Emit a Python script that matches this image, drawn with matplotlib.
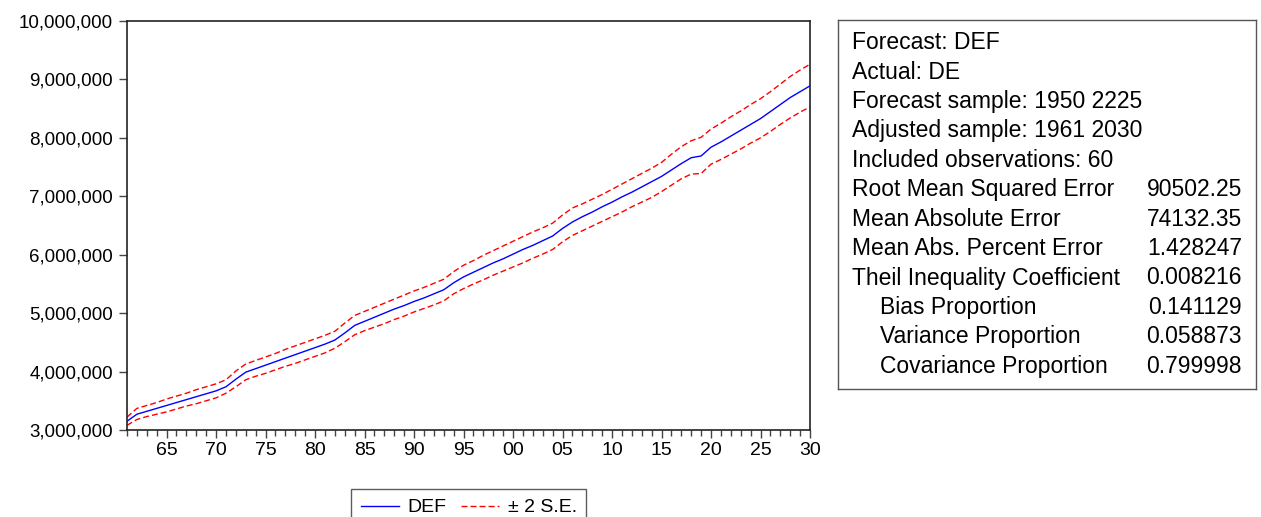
import matplotlib
matplotlib.use("Agg")
import matplotlib.pyplot as plt
from matplotlib.ticker import FuncFormatter, MultipleLocator
from matplotlib.lines import Line2D
import numpy as np

plt.rcParams['font.family'] = ['Liberation Sans', 'DejaVu Sans']

years = list(range(1961, 2031))

def_vals = [3.15, 3.27, 3.32, 3.37, 3.42, 3.47, 3.52, 3.57, 3.62, 3.67,
            3.74, 3.87, 3.99, 4.05, 4.11, 4.17, 4.23, 4.29, 4.35, 4.41,
            4.47, 4.54, 4.66, 4.79, 4.86, 4.93, 5.00, 5.07, 5.13, 5.20,
            5.26, 5.33, 5.40, 5.52, 5.62, 5.70, 5.78, 5.86, 5.93, 6.01,
            6.09, 6.16, 6.24, 6.32, 6.45, 6.56, 6.65, 6.73, 6.82, 6.90,
            6.99, 7.07, 7.16, 7.25, 7.34, 7.45, 7.56, 7.66, 7.69, 7.84,
            7.93, 8.03, 8.13, 8.23, 8.33, 8.45, 8.57, 8.69, 8.79, 8.89]

upper_vals = [3.22, 3.37, 3.42, 3.47, 3.53, 3.58, 3.63, 3.69, 3.74, 3.79,
              3.86, 4.01, 4.13, 4.19, 4.25, 4.31, 4.38, 4.44, 4.50, 4.56,
              4.62, 4.69, 4.83, 4.96, 5.03, 5.10, 5.17, 5.24, 5.31, 5.38,
              5.44, 5.51, 5.58, 5.71, 5.82, 5.90, 5.99, 6.07, 6.15, 6.23,
              6.31, 6.39, 6.46, 6.54, 6.68, 6.80, 6.87, 6.95, 7.03, 7.12,
              7.21, 7.30, 7.39, 7.48, 7.58, 7.72, 7.85, 7.95, 8.01, 8.15,
              8.25, 8.36, 8.46, 8.57, 8.67, 8.79, 8.92, 9.05, 9.16, 9.26]

lower_vals = [3.08, 3.18, 3.23, 3.27, 3.31, 3.36, 3.41, 3.45, 3.50, 3.55,
              3.63, 3.74, 3.86, 3.92, 3.97, 4.03, 4.09, 4.14, 4.20, 4.26,
              4.32, 4.40, 4.51, 4.63, 4.70, 4.76, 4.82, 4.89, 4.95, 5.02,
              5.08, 5.14, 5.21, 5.33, 5.42, 5.50, 5.57, 5.65, 5.72, 5.79,
              5.86, 5.94, 6.01, 6.09, 6.22, 6.33, 6.41, 6.49, 6.57, 6.65,
              6.73, 6.82, 6.90, 6.98, 7.08, 7.19, 7.30, 7.38, 7.39, 7.55,
              7.63, 7.72, 7.81, 7.91, 8.00, 8.11, 8.23, 8.34, 8.44, 8.53]

stat_labels = ["Root Mean Squared Error", "Mean Absolute Error",
               "Mean Abs. Percent Error", "Theil Inequality Coefficient",
               "   Bias Proportion", "   Variance Proportion",
               "   Covariance Proportion"]
stat_values = ["90502.25", "74132.35", "1.428247", "0.008216",
               "0.141129", "0.058873", "0.799998"]
header_lines = ["Forecast: DEF", "Actual: DE", "Forecast sample: 1950 2225",
                "Adjusted sample: 1961 2030", "Included observations: 60"]

W, H = 1261, 517
fig = plt.figure(figsize=(W/100, H/100), dpi=100)
ax = fig.add_axes([127/W, (H-430)/H, (810-127)/W, (430-21)/H])

y_def = np.array(def_vals) * 1e6
y_up = np.array(upper_vals) * 1e6
y_lo = np.array(lower_vals) * 1e6

DASH = (4.3, 2.2)
ax.plot(years, y_def, color='#0000ff', lw=1.0)
ax.plot(years, y_up, color='#ff0000', lw=1.0, dashes=DASH)
ax.plot(years, y_lo, color='#ff0000', lw=1.0, dashes=DASH)

ax.set_xlim(1961, 2030)
ax.set_ylim(3e6, 10e6)
ax.yaxis.set_major_locator(MultipleLocator(1e6))
ax.yaxis.set_major_formatter(FuncFormatter(lambda v, p: f"{int(round(v)):,}"))
ax.xaxis.set_major_locator(MultipleLocator(5))
ax.xaxis.set_minor_locator(MultipleLocator(1))
ax.xaxis.set_major_formatter(FuncFormatter(lambda v, p: f"{int(v) % 100:02d}"))

for s in ax.spines.values():
    s.set_color('#222222')
    s.set_linewidth(1.2)
ax.tick_params(axis='y', which='major', direction='out', length=6, width=1,
               labelsize=13.5, color='#444444', pad=4)
ax.tick_params(axis='x', which='major', direction='out', length=5.5, width=1,
               labelsize=14, color='#444444', pad=3)
ax.tick_params(axis='x', which='minor', direction='out', length=4, width=1,
               color='#444444')

# Stats box
bx0, by0, bx1, by1 = 838, 20, 1256, 389
box_ax = fig.add_axes([bx0/W, (H-by1)/H, (bx1-bx0)/W, (by1-by0)/H])
box_ax.set_xlim(bx0, bx1)
box_ax.set_ylim(by1, by0)
box_ax.set_xticks([])
box_ax.set_yticks([])
for s in box_ax.spines.values():
    s.set_color('#555555')
    s.set_linewidth(1.0)

base0 = 49.3
row_dy = 29.4
fs = 16.5
for i, t in enumerate(header_lines):
    box_ax.text(852, base0 + i*row_dy, t, fontsize=fs, va='baseline', ha='left')
for j, (lab, val) in enumerate(zip(stat_labels, stat_values)):
    yy = base0 + (len(header_lines)+j)*row_dy
    if lab.startswith("   "):
        box_ax.text(880, yy, lab.strip(), fontsize=fs, va='baseline', ha='left')
    else:
        box_ax.text(852, yy, lab, fontsize=fs, va='baseline', ha='left')
    box_ax.text(1242, yy, val, fontsize=fs, va='baseline', ha='right')

# Legend
handles = [Line2D([], [], color='#0000ff', lw=1.0),
           Line2D([], [], color='#ff0000', lw=1.0, dashes=DASH)]
leg = fig.legend(handles, ["DEF", "\u00b1 2 S.E."], loc='upper left',
                 bbox_to_anchor=(351/W, (H-489)/H), ncol=2, frameon=True,
                 fancybox=False, fontsize=14, handlelength=1.95,
                 columnspacing=0.75, borderpad=0.5, handletextpad=0.45,
                 borderaxespad=0)
leg.get_frame().set_edgecolor('#333333')
leg.get_frame().set_linewidth(1.0)

fig.savefig("out.png", dpi=100)
